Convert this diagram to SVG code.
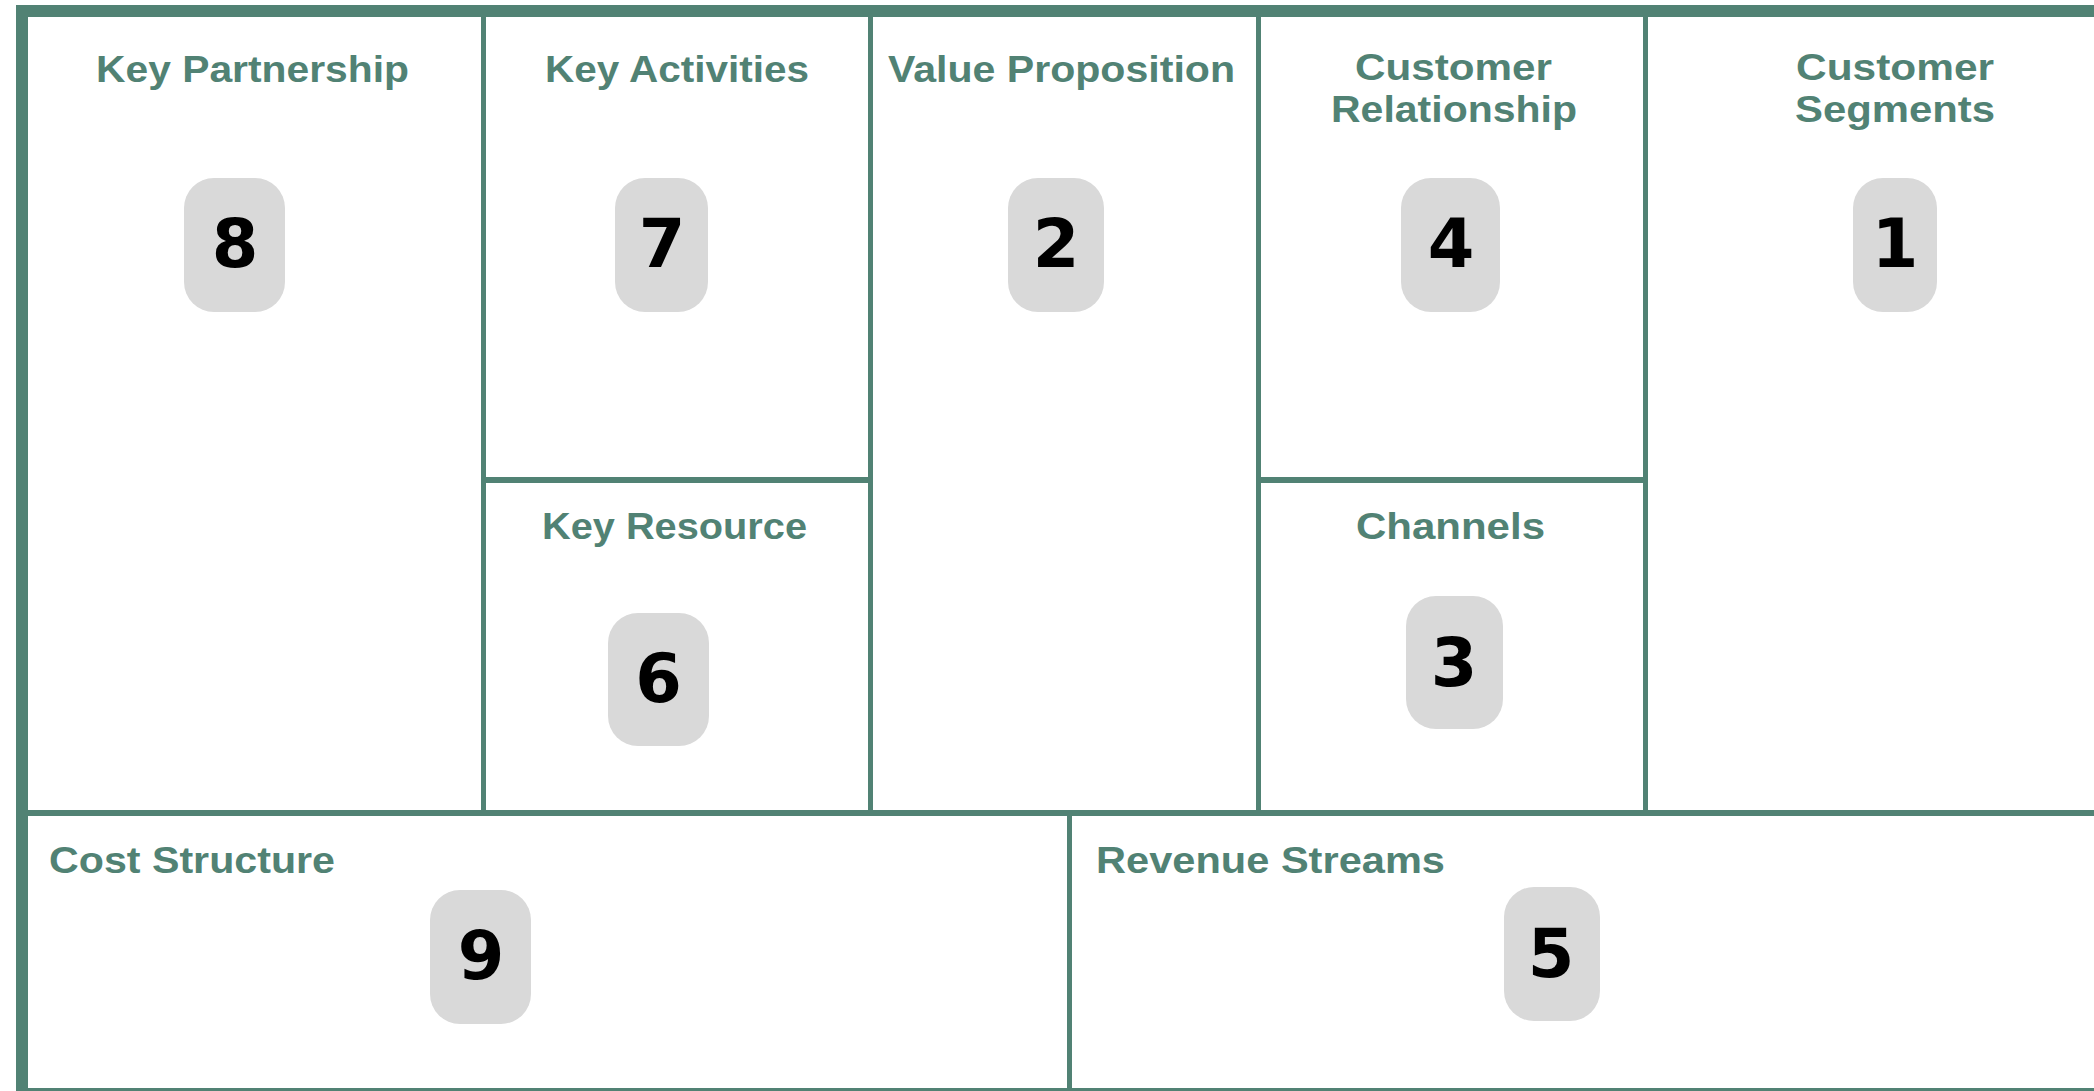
<svg xmlns="http://www.w3.org/2000/svg" width="2094" height="1091" viewBox="0 0 2094 1091">
  <style>
    .ln { fill: #518274; }
    .ttl { font-family: "Liberation Sans", Arial, sans-serif; font-weight: 700; font-size: 37.5px; fill: #518274; }
    .badge { fill: #D9D9D9; }
    .num { font-family: "DejaVu Sans", "Liberation Sans", sans-serif; font-weight: bold; font-size: 67px; fill: #000000; text-anchor: middle; }
  </style>
  <rect x="0" y="0" width="2094" height="1091" fill="#FFFFFF"/>

  <g id="grid">
    <rect class="ln" x="16" y="5" width="2100" height="12"/>
    <rect class="ln" x="16" y="5" width="12" height="1100"/>
    <rect class="ln" x="16" y="1088" width="2100" height="12"/>
    <rect class="ln" x="481" y="17" width="5" height="793"/>
    <rect class="ln" x="868" y="17" width="5" height="793"/>
    <rect class="ln" x="1256" y="17" width="5" height="793"/>
    <rect class="ln" x="1643" y="17" width="5" height="793"/>
    <rect class="ln" x="486" y="477" width="382" height="6"/>
    <rect class="ln" x="1261" y="477" width="387" height="6"/>
    <rect class="ln" x="28" y="810" width="2070" height="6"/>
    <rect class="ln" x="1067" y="816" width="5" height="272"/>
  </g>

  <g id="connectors"></g>

  <g id="key-partnership">
    <text class="ttl" x="96" y="82" textLength="313" lengthAdjust="spacingAndGlyphs">Key Partnership</text>
    <rect class="badge" x="184" y="178" width="101" height="134" rx="30" ry="30"/>
    <text class="num" x="235" y="267">8</text>
  </g>

  <g id="key-activities">
    <text class="ttl" x="545" y="82" textLength="264" lengthAdjust="spacingAndGlyphs">Key Activities</text>
    <rect class="badge" x="615" y="178" width="93" height="134" rx="30" ry="30"/>
    <text class="num" x="662" y="267">7</text>
  </g>

  <g id="value-proposition">
    <text class="ttl" x="888" y="82" textLength="347" lengthAdjust="spacingAndGlyphs">Value Proposition</text>
    <rect class="badge" x="1008" y="178" width="96" height="134" rx="30" ry="30"/>
    <text class="num" x="1056" y="267">2</text>
  </g>

  <g id="customer-relationship">
    <text class="ttl"><tspan x="1355" y="80" textLength="197" lengthAdjust="spacingAndGlyphs">Customer</tspan><tspan x="1331" y="122" textLength="246" lengthAdjust="spacingAndGlyphs">Relationship</tspan></text>
    <rect class="badge" x="1401" y="178" width="99" height="134" rx="30" ry="30"/>
    <text class="num" x="1451" y="267">4</text>
  </g>

  <g id="customer-segments">
    <text class="ttl"><tspan x="1796" y="80" textLength="198" lengthAdjust="spacingAndGlyphs">Customer</tspan><tspan x="1795" y="122" textLength="200" lengthAdjust="spacingAndGlyphs">Segments</tspan></text>
    <rect class="badge" x="1853" y="178" width="84" height="134" rx="30" ry="30"/>
    <text class="num" x="1895" y="267">1</text>
  </g>

  <g id="key-resource">
    <text class="ttl" x="542" y="539" textLength="265" lengthAdjust="spacingAndGlyphs">Key Resource</text>
    <rect class="badge" x="608" y="613" width="101" height="133" rx="30" ry="30"/>
    <text class="num" x="658.5" y="702">6</text>
  </g>

  <g id="channels">
    <text class="ttl" x="1356" y="539" textLength="189" lengthAdjust="spacingAndGlyphs">Channels</text>
    <rect class="badge" x="1406" y="596" width="97" height="133" rx="30" ry="30"/>
    <text class="num" x="1454" y="686">3</text>
  </g>

  <g id="cost-structure">
    <text class="ttl" x="49" y="873" textLength="286" lengthAdjust="spacingAndGlyphs">Cost Structure</text>
    <rect class="badge" x="430" y="890" width="101" height="134" rx="30" ry="30"/>
    <text class="num" x="481" y="979">9</text>
  </g>

  <g id="revenue-streams">
    <text class="ttl" x="1096" y="873" textLength="349" lengthAdjust="spacingAndGlyphs">Revenue Streams</text>
    <rect class="badge" x="1504" y="887" width="96" height="134" rx="30" ry="30"/>
    <text class="num" x="1551" y="977">5</text>
  </g>
</svg>
